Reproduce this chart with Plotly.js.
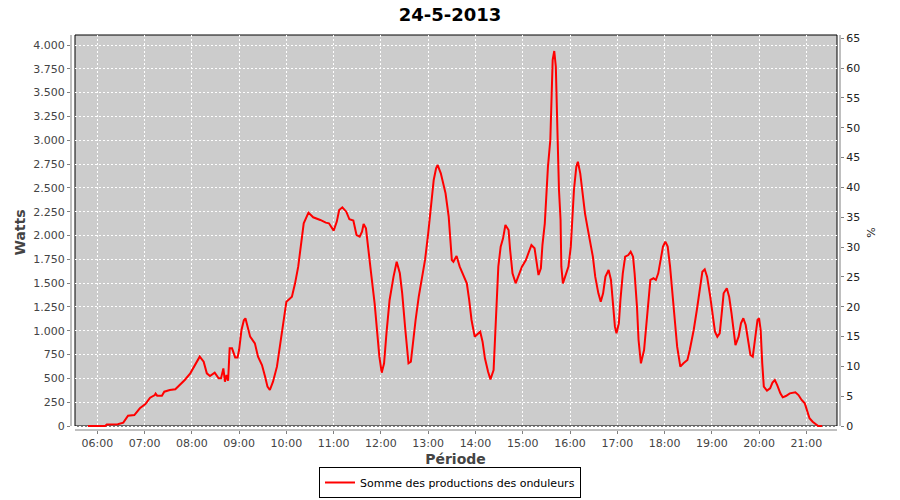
<!DOCTYPE html>
<html>
<head>
<meta charset="utf-8">
<script src="https://cdn.plot.ly/plotly-3.0.1.min.js"></script>
<style>html,body{margin:0;padding:0;background:#fff;}#chart{width:900px;height:500px;}</style>
</head>
<body>
<div id="chart"></div>
<script>
const chartDate = '2013-05-24';
const times = ['05:48','06:10','06:12','06:26','06:33','06:39','06:47','06:54','07:01','07:07','07:13','07:14','07:16','07:22','07:25','07:32','07:39','07:45','07:51','07:58','08:04','08:10','08:15','08:19','08:23','08:29','08:34','08:37','08:40','08:42','08:44','08:46','08:48','08:51','08:55','08:58','09:00','09:03','09:06','09:08','09:14','09:20','09:24','09:29','09:33','09:36','09:39','09:43','09:48','09:52','09:56','10:00','10:07','10:11','10:15','10:19','10:22','10:28','10:34','10:43','10:50','10:54','11:00','11:04','11:07','11:11','11:16','11:20','11:25','11:29','11:33','11:36','11:38','11:41','11:44','11:48','11:52','11:55','11:58','12:01','12:04','12:07','12:11','12:16','12:20','12:24','12:27','12:31','12:33','12:35','12:38','12:41','12:44','12:48','12:52','12:56','13:00','13:04','13:07','13:10','13:12','13:16','13:19','13:22','13:26','13:28','13:30','13:32','13:36','13:40','13:45','13:49','13:52','13:55','13:59','14:03','14:06','14:09','14:12','14:16','14:19','14:23','14:25','14:27','14:29','14:32','14:35','14:38','14:42','14:44','14:47','14:51','14:55','14:59','15:04','15:07','15:11','15:15','15:18','15:20','15:23','15:25','15:28','15:30','15:32','15:35','15:37','15:38','15:40','15:42','15:44','15:46','15:48','15:49','15:51','15:55','15:58','16:01','16:03','16:05','16:08','16:10','16:13','16:16','16:19','16:22','16:25','16:29','16:32','16:36','16:39','16:42','16:45','16:49','16:52','16:55','16:57','16:59','17:02','17:04','17:07','17:10','17:14','17:17','17:20','17:22','17:25','17:27','17:29','17:30','17:34','17:37','17:40','17:42','17:46','17:49','17:52','17:55','17:58','18:01','18:04','18:07','18:10','18:13','18:16','18:20','18:24','18:29','18:32','18:37','18:41','18:45','18:48','18:51','18:54','18:58','19:01','19:04','19:07','19:10','19:13','19:15','19:19','19:22','19:25','19:28','19:30','19:34','19:37','19:40','19:43','19:46','19:49','19:52','19:55','19:58','20:00','20:02','20:04','20:06','20:10','20:14','20:17','20:20','20:23','20:27','20:30','20:34','20:39','20:46','20:50','20:54','20:58','21:01','21:04','21:08','21:12','21:15','21:20'];
const watts = [0,0,15,18,35,108,115,186,231,297,325,340,318,318,360,378,385,430,483,553,640,728,675,553,525,560,500,500,605,465,535,475,815,815,720,720,800,1008,1110,1130,938,868,728,640,518,413,378,465,623,868,1113,1305,1358,1498,1673,1953,2128,2240,2191,2163,2135,2128,2051,2146,2268,2296,2250,2170,2156,2005,1988,2040,2121,2075,1883,1568,1288,1008,728,560,658,973,1323,1568,1725,1603,1393,1008,798,658,675,903,1113,1358,1568,1743,2023,2338,2583,2706,2740,2653,2548,2443,2198,1918,1743,1725,1785,1673,1568,1498,1323,1113,938,973,990,885,711,570,490,588,903,1323,1673,1883,1970,2110,2058,1848,1603,1498,1585,1673,1743,1813,1900,1866,1690,1585,1656,1900,2128,2408,2723,3003,3457,3843,3937,3773,3108,2478,2163,1673,1498,1603,1673,1883,2198,2478,2723,2775,2653,2408,2233,2093,1953,1778,1568,1393,1305,1393,1568,1638,1533,1253,1043,973,1078,1323,1603,1778,1795,1830,1778,1603,1253,903,728,658,798,1078,1358,1533,1551,1533,1603,1743,1883,1935,1883,1673,1358,1113,833,623,658,693,798,1008,1218,1463,1620,1645,1568,1358,1148,990,938,973,1218,1393,1446,1358,1183,938,850,938,1078,1131,1060,903,745,728,903,1113,1131,1008,658,413,371,396,455,483,430,343,301,315,343,354,325,273,238,168,81,45,18,0,0];
const wattTicks = [0,250,500,750,1000,1250,1500,1750,2000,2250,2500,2750,3000,3250,3500,3750,4000];
const pctTicks = [0,5,10,15,20,25,30,35,40,45,50,55,60,65];
const hourTicks = ['06:00','07:00','08:00','09:00','10:00','11:00','12:00','13:00','14:00','15:00','16:00','17:00','18:00','19:00','20:00','21:00'];
const seriesName = 'Somme des productions des onduleurs';

const xs = times.map(t => chartDate + ' ' + t);
const labelFont = {family: 'DejaVu Sans, sans-serif', size: 11, color: '#444444'};

const traces = [
  {x: xs, y: watts, type: 'scatter', mode: 'lines', name: seriesName,
   line: {color: '#ff0000', width: 2}, yaxis: 'y', hoverinfo: 'x+y'},
  {x: [xs[0]], y: [null], type: 'scatter', mode: 'lines', yaxis: 'y2',
   showlegend: false, hoverinfo: 'skip'}
];

const fx = p => (p - 71) / 769;
const fy = p => (430 - p) / 395;

const layout = {
  width: 900, height: 500,
  paper_bgcolor: '#ffffff', plot_bgcolor: 'rgba(0,0,0,0)',
  separators: ',.',
  margin: {l: 71, r: 60, t: 35, b: 70, pad: 0, autoexpand: false},
  font: {family: 'DejaVu Sans, sans-serif', color: '#444444'},
  title: {text: '24-5-2013', font: {family: 'DejaVu Sans, sans-serif', size: 18, color: '#000000', weight: 'bold'},
          x: 0.5, xref: 'container', xanchor: 'center', y: 0.97, yref: 'container', yanchor: 'middle'},
  xaxis: {
    type: 'date',
    range: [chartDate + ' 05:26:36', chartDate + ' 21:42:42'],
    tickvals: hourTicks.map(t => chartDate + ' ' + t),
    ticktext: hourTicks,
    showgrid: true, gridcolor: '#ffffff', gridwidth: 1, griddash: '2px,2px',
    zeroline: false, showline: false,
    ticks: 'outside', ticklen: 3, tickcolor: '#808080', tickfont: labelFont,
    title: {text: 'Période', font: {family: 'DejaVu Sans, sans-serif', size: 14, color: '#444444', weight: 'bold'}, standoff: 6},
    automargin: false, fixedrange: true
  },
  yaxis: {
    range: [-42, 4105],
    tickvals: wattTicks,
    tickformat: ',d',
    showgrid: true, gridcolor: '#ffffff', gridwidth: 1, griddash: '2px,2px',
    zeroline: false, showline: false,
    ticks: 'outside', ticklen: 3, tickcolor: '#808080', tickfont: labelFont,
    title: {text: 'Watts', font: {family: 'DejaVu Sans, sans-serif', size: 14, color: '#444444', weight: 'bold'}, standoff: 4},
    automargin: false, fixedrange: true
  },
  yaxis2: {
    overlaying: 'y', side: 'right', anchor: 'x',
    range: [-0.67, 65.55],
    tickvals: pctTicks,
    showgrid: false, zeroline: false, showline: false,
    ticks: 'outside', ticklen: 3, tickcolor: '#808080',
    tickfont: {family: 'DejaVu Sans, sans-serif', size: 11, color: '#222222'},
    title: {text: '%', font: {family: 'DejaVu Sans, sans-serif', size: 11, color: '#222222'}, standoff: 8},
    automargin: false, fixedrange: true
  },
  showlegend: true,
  legend: {
    orientation: 'h', x: 0.5, xref: 'container', xanchor: 'center',
    y: 1 - 498 / 500, yref: 'container', yanchor: 'bottom',
    bordercolor: '#000000', borderwidth: 1, bgcolor: '#ffffff',
    font: {family: 'DejaVu Sans, sans-serif', size: 11, color: '#000000'},
    itemwidth: 30, tracegroupgap: 0
  },
  shapes: [
    {type: 'rect', xref: 'paper', yref: 'paper', x0: fx(75), x1: fx(837), y0: fy(426), y1: fy(35),
     fillcolor: '#cccccc', line: {width: 0}, layer: 'below'},
    {type: 'rect', xref: 'paper', yref: 'paper', x0: fx(75), x1: fx(837), y0: fy(426), y1: fy(35),
     fillcolor: 'rgba(0,0,0,0)', line: {width: 1, color: '#000000'}, layer: 'between'},
    {type: 'line', xref: 'paper', yref: 'paper', x0: 0, x1: 0, y0: fy(426), y1: fy(35),
     line: {width: 1, color: '#808080'}},
    {type: 'line', xref: 'paper', yref: 'paper', x0: 1, x1: 1, y0: fy(426), y1: fy(35),
     line: {width: 1, color: '#808080'}},
    {type: 'line', xref: 'paper', yref: 'paper', x0: fx(75), x1: fx(837), y0: 0, y1: 0,
     line: {width: 1, color: '#808080'}}
  ]
};

Plotly.newPlot('chart', traces, layout, {displayModeBar: false, staticPlot: true});
</script>
</body>
</html>
